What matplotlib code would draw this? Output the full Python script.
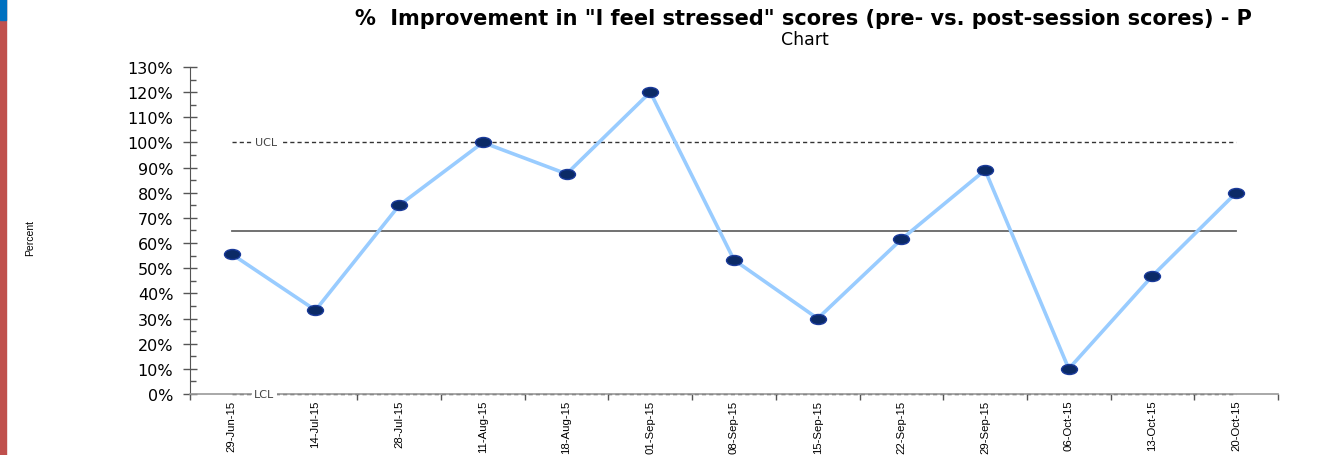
import numpy as np
import matplotlib
matplotlib.use("Agg")
import matplotlib.pyplot as plt
from matplotlib.path import Path
from matplotlib.patches import Rectangle
from matplotlib.ticker import MultipleLocator, FixedLocator

# donnees
dates = ['29-Jun-15', '14-Jul-15', '28-Jul-15', '11-Aug-15', '18-Aug-15', '01-Sep-15',
         '08-Sep-15', '15-Sep-15', '22-Sep-15', '29-Sep-15', '06-Oct-15', '13-Oct-15',
         '20-Oct-15']
pourcentages = [55.6, 33.3, 75.0, 100.0, 87.5, 120.0, 53.3, 30.0, 61.5, 89.0, 10.0, 47.0, 80.0]
moyenne = 64.8
ucl = 100.0
lcl = 0.0

fig = plt.figure(figsize=(13.2, 4.56), dpi=100)
ax = fig.add_axes([0.1439, 0.1338, 0.8243, 0.7171])

x = np.arange(len(dates))

# marqueur ellipse (plus large que haut)
ellipse = Path.unit_circle().transformed(matplotlib.transforms.Affine2D().scale(1.6, 1.0))

# limites de controle
ax.plot([x[0], x[-1]], [ucl, ucl], color='#333333', lw=1, dashes=(3, 2.2))
ax.plot([x[0], x[-1]], [lcl, lcl], color='#333333', lw=1, dashes=(3, 2.2), clip_on=False)
ax.plot([x[0], x[-1]], [moyenne, moyenne], color='#666666', lw=1.3)
ax.text(0.41, ucl, 'UCL', fontsize=8, color='#444444', ha='center', va='center',
        bbox=dict(facecolor='white', edgecolor='none', pad=2))
ax.text(0.39, lcl, 'LCL', fontsize=8, color='#444444', ha='center', va='center',
        bbox=dict(facecolor='white', edgecolor='none', pad=2), clip_on=False)

# serie
ax.plot(x, pourcentages, color='#99ccff', lw=2.6, zorder=3)
ax.plot(x, pourcentages, ls='none', marker=ellipse, markersize=11.5,
        markerfacecolor='#0b2a66', markeredgecolor='#1a3a9a', markeredgewidth=1, zorder=4)

ax.set_xlim(-0.5, len(dates) - 0.5)
ax.set_ylim(0, 130)

ax.yaxis.set_major_locator(MultipleLocator(10))
ax.yaxis.set_minor_locator(MultipleLocator(5))
ax.set_yticklabels([f'{int(v)}%' for v in ax.get_yticks()])
ax.tick_params(axis='y', which='major', direction='inout', length=10, width=1,
               color='#555555', labelsize=11.5, pad=7)
ax.tick_params(axis='y', which='minor', direction='in', length=4.5, width=1, color='#555555')

ax.set_xticks(x)
ax.set_xticklabels(dates, rotation=90, family='Liberation Sans', fontsize=8.2)
ax.xaxis.set_minor_locator(FixedLocator(np.arange(-0.5, len(dates), 1.0)))
ax.tick_params(axis='x', which='major', length=0, pad=4)
ax.tick_params(axis='x', which='minor', direction='out', length=4, width=1, color='#555555')

for sp in ['top', 'right']:
    ax.spines[sp].set_visible(False)
ax.spines['left'].set_color('#555555')
ax.spines['bottom'].set_color('#999999')
ax.spines['bottom'].set_linewidth(1.2)

fig.text(0.0227, 0.478, 'Percent', rotation=90, fontsize=7.5, ha='center', va='center',
         family='Liberation Sans')

fig.text(0.609, 0.958, '%  Improvement in "I feel stressed" scores (pre- vs. post-session scores) - P',
         fontsize=15, fontweight='bold', ha='center', va='center', family='DejaVu Sans')
fig.text(0.61, 0.912, 'Chart', fontsize=12.5, ha='center', va='center', family='DejaVu Sans')

# bandeau a gauche de la capture
fig.add_artist(Rectangle((0, 0), 0.0045, 1, transform=fig.transFigure, color='#c0504d'))
fig.add_artist(Rectangle((0, 0.955), 0.0045, 0.045, transform=fig.transFigure, color='#0070c0'))

fig.savefig('out.png', dpi=100)
